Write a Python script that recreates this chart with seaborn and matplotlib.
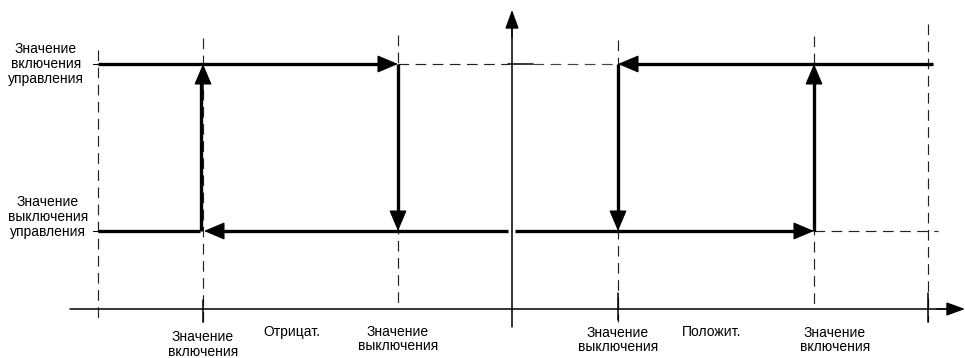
import numpy as np
import pandas as pd
import matplotlib
matplotlib.use("Agg")
import matplotlib.pyplot as plt
import seaborn as sns

# ---------------- data (diagram units, origin at the axes crossing) ----------------
level_labels = ["Значение\nвключения\nуправления", "Значение\nвыключения\nуправления"]
level_values = [245, 78]                    # control ON level, control OFF level
threshold_values = [-309, -114, 106, 302]   # neg ON, neg OFF, pos OFF, pos ON
threshold_labels = ["Значение\nвключения", "Значение\nвыключения",
                    "Значение\nвыключения", "Значение\nвключения"]
region_labels = ["Отрицат.", "Положит."]
region_values = [-220, 200]
span_values = [-414, 416]                   # outer dashed limits

sns.set_theme(style="white")
plt.rcParams["font.family"] = ["Liberation Sans", "DejaVu Sans"]

on, off = level_values
neg_on, neg_off, pos_off, pos_on = threshold_values
left, right = span_values

fig = plt.figure(figsize=(9.65, 3.58), dpi=100)
ax = fig.add_axes([0, 0, 1, 1])

K = "black"
DASH = (0, (9, 5.5))
dlw = 0.85

def seg(x0, y0, x1, y1, **kw):
    ax.plot([x0, x1], [y0, y1], **kw)

# ---------- dashed guide lines ----------
for x, yt, yb in [(left, 259, -13), (neg_on, 271, -13), (neg_off, 274, 0),
                  (pos_off, 269, -13), (pos_on, 273, 0), (right, 285, -13)]:
    seg(x, yt, x, yb, color="#222222", lw=dlw, linestyle=DASH, zorder=1)

seg(neg_off, on, -4, on, color="#222222", lw=dlw, linestyle=DASH, zorder=1)
seg(21, on, pos_off, on, color="#444444", lw=dlw, linestyle=DASH, zorder=1)
seg(pos_on, off, 426, off, color="#222222", lw=dlw, linestyle=DASH, zorder=1)
seg(-4, on, 21, on, color=K, lw=1.1, zorder=2)

# small solid ticks
for x, yt, yb in [(neg_on, 9, -13), (pos_off, 16, -11), (right, 16, -13)]:
    seg(x, yt, x, yb, color=K, lw=1.1, zorder=2)
for y in (on, off):
    seg(left - 5, y, left, y, color=K, lw=0.8, zorder=2)

# ---------- axes with arrows ----------
seg(-442, 0, 440, 0, color=K, lw=1.1, zorder=2)
seg(0, -18, 0, 285, color=K, lw=1.1, zorder=2)
axis_arrow = dict(arrowstyle="-|>,head_length=1.15,head_width=0.42", lw=1.0,
                  color=K, shrinkA=0, shrinkB=0, mutation_scale=10)
ax.annotate("", xy=(453, 0), xytext=(425, 0), arrowprops=axis_arrow, zorder=3)
ax.annotate("", xy=(0, 299), xytext=(0, 272), arrowprops=axis_arrow, zorder=3)

# ---------- thick hysteresis loops (seaborn) ----------
h = 10  # line stops short of each arrow tip
rows = []
paths = [
    [(left, on), (neg_off - h, on)],
    [(neg_off, on), (neg_off, off + h)],
    [(-4, off), (neg_on + h, off)],
    [(left, off), (neg_on - 3, off)],
    [(neg_on - 2, off), (neg_on - 2, on - h)],
    [(right + 5, on), (pos_off + h, on)],
    [(pos_off, on), (pos_off, off + h)],
    [(3, off), (pos_on - h, off)],
    [(pos_on, off), (pos_on, on - h)],
]
for i, p in enumerate(paths):
    for j, (x, y) in enumerate(p):
        rows.append({"seg": i, "order": j, "x": x, "y": y})
df = pd.DataFrame(rows)
sns.lineplot(data=df, x="x", y="y", units="seg", estimator=None, sort=False,
             color=K, lw=2.4, ax=ax, legend=False, solid_capstyle="butt", zorder=4)

thick_arrow = dict(arrowstyle="-|>,head_length=1.3,head_width=0.55", lw=1.0,
                   color=K, shrinkA=0, shrinkB=0, mutation_scale=10)
for tip, src in [((neg_off, on), (neg_off - 30, on)),
                 ((neg_off, off), (neg_off, off + 30)),
                 ((neg_on + 1, off), (neg_on + 31, off)),
                 ((neg_on, on), (neg_on, on - 30)),
                 ((pos_off, on), (pos_off + 30, on)),
                 ((pos_off, off), (pos_off, off + 30)),
                 ((pos_on, off), (pos_on - 30, off)),
                 ((pos_on, on), (pos_on, on - 30))]:
    ax.annotate("", xy=tip, xytext=src, arrowprops=thick_arrow, zorder=5)

# ---------- texts ----------
fs = 10
ax.text(-466, on, level_labels[0], ha="center", va="center", fontsize=fs,
        linespacing=1.1, color=K)
ax.text(-464, off + 14, level_labels[1], ha="center", va="center", fontsize=fs,
        linespacing=1.1, color=K)

lab_dx = [0, 0, 0, 21]
lab_y = [-35.5, -30, -31, -31]
for x, t, dx, y in zip(threshold_values, threshold_labels, lab_dx, lab_y):
    ax.text(x + dx, y, t, ha="center", va="center", fontsize=fs, linespacing=1.05, color=K)
for x, t in zip(region_values, region_labels):
    ax.text(x, -23, t, ha="center", va="center", fontsize=fs, color=K)

ax.set_xlim(-512, 453)
ax.set_ylim(-49, 309)
ax.axis("off")

fig.savefig("out.png", dpi=100)
